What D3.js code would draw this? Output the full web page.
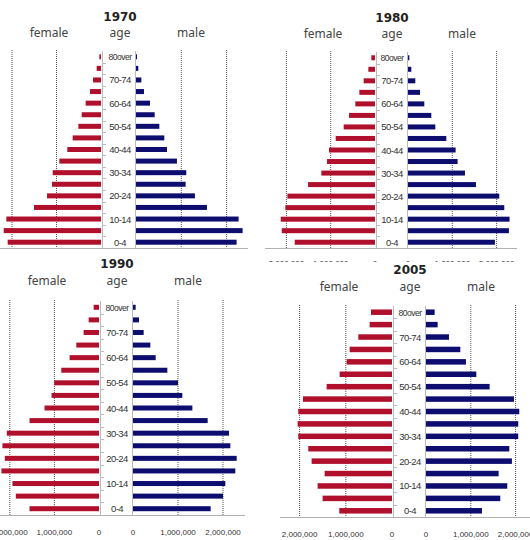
<!DOCTYPE html>
<html>
<head>
<meta charset="utf-8">
<script src="https://cdn.jsdelivr.net/npm/d3@7"></script>
<style>
  body { margin: 0; background: #fff; }
  svg { display: block; }
  .hdr { font-family: "Noto Sans", sans-serif; font-size: 12px; fill: #444; }
  .title { font-family: "DejaVu Sans", sans-serif; font-weight: bold; font-size: 12px; fill: #222; }
  .age { font-family: "Liberation Sans", sans-serif; font-size: 9.5px; fill: #333; letter-spacing: -0.6px; }
  .tick { font-family: "Liberation Sans", sans-serif; font-size: 8px; fill: #333; }
</style>
</head>
<body>
<div id="chart"></div>
<script>
const AGES = ["80over", "75-79", "70-74", "65-69", "60-64", "55-59", "50-54", "45-49",
  "40-44", "35-39", "30-34", "25-29", "20-24", "15-19", "10-14", "5-9", "0-4"];
const AGE_LABELS = ["80over", "70-74", "60-64", "50-54", "40-44", "30-34", "20-24", "10-14", "0-4"];
const TICKS = [0, 1000000, 2000000];

// values listed top (80over) to bottom (0-4)
const FEMALE_1970 = [37000, 97000, 180000, 247000, 345000, 434000, 509000, 637000, 757000,
  936000, 1086000, 1101000, 1213000, 1506000, 2127000, 2187000, 2097000];
const MALE_1970 = [22000, 51000, 118000, 176000, 309000, 412000, 515000, 625000, 684000,
  904000, 1110000, 1096000, 1301000, 1566000, 2265000, 2353000, 2221000];

const FEMALE_1980 = [83000, 150000, 256000, 353000, 444000, 586000, 707000, 887000, 1038000,
  1083000, 1211000, 1511000, 1977000, 2023000, 2128000, 2105000, 1812000];
const MALE_1980 = [30000, 75000, 165000, 271000, 368000, 526000, 617000, 865000, 1075000,
  1120000, 1286000, 1534000, 2060000, 2173000, 2293000, 2278000, 1962000];

const FEMALE_1990 = [120000, 232000, 345000, 509000, 659000, 846000, 1004000, 1064000, 1221000,
  1558000, 2067000, 2165000, 2112000, 2187000, 1940000, 1865000, 1558000];
const MALE_1990 = [59000, 133000, 237000, 385000, 504000, 763000, 1000000, 1096000, 1319000,
  1659000, 2133000, 2163000, 2304000, 2274000, 2052000, 2000000, 1726000];

const FEMALE_2005 = [455000, 484000, 729000, 917000, 982000, 1134000, 1415000, 1928000, 2029000,
  2043000, 2029000, 1812000, 1740000, 1458000, 1610000, 1502000, 1141000];
const MALE_2005 = [193000, 260000, 513000, 766000, 892000, 1123000, 1420000, 1963000, 2082000,
  2059000, 2059000, 1859000, 1918000, 1621000, 1814000, 1658000, 1249000];

const RED = "#b0102c";
const NAVY = "#0d0d70";

const svg = d3.select("#chart").append("svg")
    .attr("width", 530)
    .attr("height", 540);

const defs = svg.append("defs");

const draw_panel = (p) => {
  const g = svg.append("g");
  if (p.clip) {
    const id = "clip" + p.title;
    defs.append("clipPath").attr("id", id)
      .append("rect").attr("x", 0).attr("y", 0).attr("width", 530).attr("height", p.clip);
    g.attr("clip-path", "url(#" + id + ")");
  }

  const xF = d3.scaleLinear().domain([0, 2000000]).range([p.fz, p.fz - 2 * p.unitF]);
  const xM = d3.scaleLinear().domain([0, 2000000]).range([p.mz, p.mz + 2 * p.unitM]);
  const y = d3.scaleBand().domain(AGES).range([p.top, p.bottom]);
  const bh = p.barH;

  // dotted grid lines
  g.selectAll(".gf").data(TICKS.slice(1)).join("line")
    .attr("x1", (d) => xF(d)).attr("x2", (d) => xF(d))
    .attr("y1", p.top - 1).attr("y2", p.bottom)
    .attr("stroke", "#555").attr("stroke-dasharray", "1,1");
  g.selectAll(".gm").data(TICKS.slice(1)).join("line")
    .attr("x1", (d) => xM(d)).attr("x2", (d) => xM(d))
    .attr("y1", p.top - 1).attr("y2", p.bottom)
    .attr("stroke", "#555").attr("stroke-dasharray", "1,1");

  // bottom axis line
  g.append("line")
    .attr("x1", p.axisX[0]).attr("x2", p.axisX[1])
    .attr("y1", p.bottom + 0.5).attr("y2", p.bottom + 0.5)
    .attr("stroke", "#b0b0b0");

  // category axes at both zero lines
  g.append("line")
    .attr("x1", p.fz + 1.5).attr("x2", p.fz + 1.5)
    .attr("y1", p.top).attr("y2", p.bottom)
    .attr("stroke", "#bbb");
  g.append("line")
    .attr("x1", p.mz - 0.5).attr("x2", p.mz - 0.5)
    .attr("y1", p.top).attr("y2", p.bottom)
    .attr("stroke", "#bbb");
  g.selectAll(".ct").data(AGES.slice(1)).join("line")
    .attr("x1", p.fz + 1.5).attr("x2", p.fz + 5)
    .attr("y1", (d) => Math.round(y(d)) + 0.5).attr("y2", (d) => Math.round(y(d)) + 0.5)
    .attr("stroke", "#bbb");

  // bars
  g.selectAll(".bf").data(p.female).join("rect")
    .attr("x", (d) => xF(d))
    .attr("y", (d, i) => y(AGES[i]) + y.bandwidth() / 2 - bh / 2)
    .attr("width", (d) => xF(0) - xF(d))
    .attr("height", bh)
    .attr("fill", RED);
  g.selectAll(".bm").data(p.male).join("rect")
    .attr("x", xM(0))
    .attr("y", (d, i) => y(AGES[i]) + y.bandwidth() / 2 - bh / 2)
    .attr("width", (d) => xM(d) - xM(0))
    .attr("height", bh)
    .attr("fill", NAVY);

  // age labels
  g.selectAll(".al").data(AGE_LABELS).join("text")
    .attr("class", "age")
    .attr("x", p.ageX)
    .attr("y", (d) => y(d) + y.bandwidth() / 2 + 3.5)
    .attr("text-anchor", "middle")
    .attr("textLength", (d) => d == "80over" ? 23 : null)
    .attr("lengthAdjust", "spacingAndGlyphs")
    .text((d) => d);

  // value tick labels
  if (p.tickY) {
    g.selectAll(".tf").data(TICKS).join("text")
      .attr("class", "tick")
      .attr("x", (d) => xF(d)).attr("y", p.tickY)
      .attr("text-anchor", "middle")
      .text((d) => d3.format(",")(d));
    g.selectAll(".tm").data(TICKS).join("text")
      .attr("class", "tick")
      .attr("x", (d) => xM(d)).attr("y", p.tickY)
      .attr("text-anchor", "middle")
      .text((d) => d3.format(",")(d));
  }

  // headings
  svg.append("text").attr("class", "title")
    .attr("x", p.ageX).attr("y", p.titleY)
    .attr("text-anchor", "middle").text(p.title);
  const hdr = [["female", p.hdrX[0]], ["age", p.ageX], ["male", p.hdrX[1]]];
  svg.selectAll(null).data(hdr).join("text")
    .attr("class", "hdr")
    .attr("x", (d) => d[1]).attr("y", p.hdrY)
    .attr("text-anchor", "middle")
    .text((d) => d[0]);
}

const PANELS = [
  { title: "1970", female: FEMALE_1970, male: MALE_1970,
    fz: 101, mz: 136, unitF: 44.5, unitM: 45.3, top: 51, bottom: 248, barH: 5,
    ageX: 120, titleY: 21, hdrY: 37, hdrX: [49, 191], axisX: [0, 248], tickY: null },
  { title: "1980", female: FEMALE_1980, male: MALE_1980,
    fz: 375, mz: 408, unitF: 44.3, unitM: 44.3, top: 52, bottom: 248, barH: 5,
    ageX: 392, titleY: 22, hdrY: 38, hdrX: [323, 462], axisX: [265, 517], tickY: 266, clip: 262 },
  { title: "1990", female: FEMALE_1990, male: MALE_1990,
    fz: 99, mz: 133, unitF: 44.6, unitM: 45, top: 301, bottom: 515, barH: 5,
    ageX: 117, titleY: 268, hdrY: 285, hdrX: [47, 188], axisX: [0, 245], tickY: 535 },
  { title: "2005", female: FEMALE_2005, male: MALE_2005,
    fz: 392, mz: 426, unitF: 46.2, unitM: 44.8, top: 306, bottom: 517, barH: 5.5,
    ageX: 410, titleY: 274, hdrY: 291, hdrX: [339, 481], axisX: [280, 530], tickY: 537 }
];

PANELS.forEach(draw_panel);
</script>
</body>
</html>
